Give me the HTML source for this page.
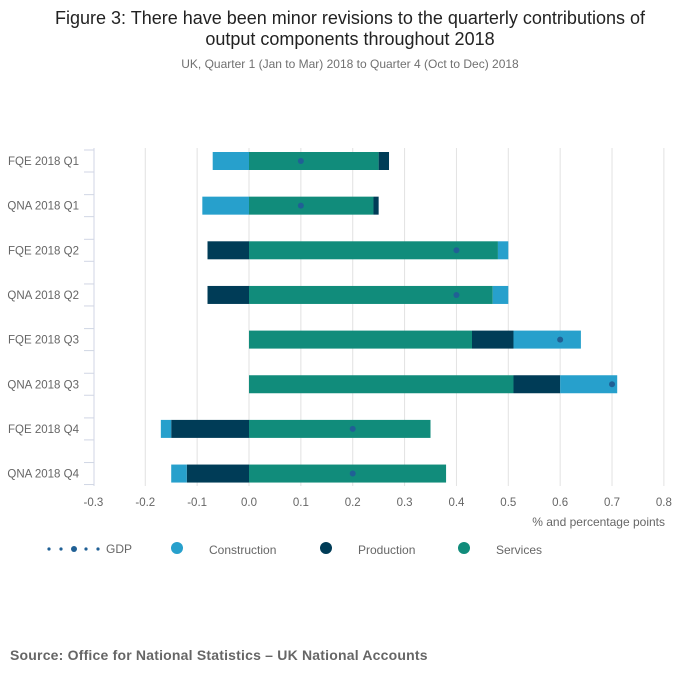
<!DOCTYPE html>
<html><head><meta charset="utf-8"><style>
body{margin:0;background:#fff;font-family:"Liberation Sans",sans-serif;}
svg text{font-family:"Liberation Sans",sans-serif;}
</style></head><body>
<svg width="700" height="682" viewBox="0 0 700 682" xmlns="http://www.w3.org/2000/svg">
<text x="350" y="24" text-anchor="middle" font-size="18" fill="#222">Figure 3: There have been minor revisions to the quarterly contributions of</text>
<text x="350" y="45" text-anchor="middle" font-size="18" fill="#222">output components throughout 2018</text>
<text x="350" y="68" text-anchor="middle" font-size="12" fill="#707070">UK, Quarter 1 (Jan to Mar) 2018 to Quarter 4 (Oct to Dec) 2018</text>
<g id="grid"></g><g id="bars"></g><g id="axes"></g>
<text x="665" y="526" text-anchor="end" font-size="12" fill="#666">% and percentage points</text>
<g>
<g>
<circle cx="49" cy="549" r="1.6" fill="#206095"/><circle cx="61" cy="549" r="1.6" fill="#206095"/><circle cx="74" cy="549" r="3" fill="#206095"/><circle cx="86" cy="549" r="1.6" fill="#206095"/><circle cx="98" cy="549" r="1.6" fill="#206095"/>
<text x="106" y="553" font-size="12" fill="#666">GDP</text></g>
<g><circle cx="177" cy="548" r="6" fill="#27a0cc"/><text x="209" y="554" font-size="12" fill="#666">Construction</text></g>
<g><circle cx="326" cy="548" r="6" fill="#003c57"/><text x="358" y="554" font-size="12" fill="#666">Production</text></g>
<g><circle cx="464" cy="548" r="6" fill="#118c7b"/><text x="496" y="554" font-size="12" fill="#666">Services</text></g>
</g>
<text x="10" y="660" font-size="14" font-weight="bold" fill="#666" letter-spacing="0.2">Source: Office for National Statistics – UK National Accounts</text>
</svg>
<script>
const categories=["FQE 2018 Q1","QNA 2018 Q1","FQE 2018 Q2","QNA 2018 Q2","FQE 2018 Q3","QNA 2018 Q3","FQE 2018 Q4","QNA 2018 Q4"];
const services=[0.25,0.24,0.48,0.47,0.43,0.51,0.35,0.38];
const production=[0.02,0.01,-0.08,-0.08,0.08,0.09,-0.15,-0.12];
const construction=[-0.07,-0.09,0.02,0.03,0.13,0.11,-0.02,-0.03];
const gdp=[0.1,0.1,0.4,0.4,0.6,0.7,0.2,0.2];
const xTicks=[-0.3,-0.2,-0.1,0.0,0.1,0.2,0.3,0.4,0.5,0.6,0.7,0.8];
const xTickLabels=["-0.3","-0.2","-0.1","0.0","0.1","0.2","0.3","0.4","0.5","0.6","0.7","0.8"];
const NS="http://www.w3.org/2000/svg";
const x=v=>249+(v*518.6);
const y=i=>161+i*44.65;
function mk(tag,attrs,parent){const e=document.createElementNS(NS,tag);for(const k in attrs)e.setAttribute(k,attrs[k]);document.getElementById(parent).appendChild(e);return e;}
xTicks.forEach((t,i)=>{
 if(i>0){const g=mk('line',{x1:x(t),x2:x(t),y1:148,y2:486,stroke:'#e2e2e2','stroke-width':1},'grid');
 
 }
 const tx=mk('text',{x:x(t),y:506,'text-anchor':'middle','font-size':11.5,fill:'#666'},'axes');tx.textContent=xTickLabels[i];
 
 
});
const ax=mk('line',{x1:94,x2:94,y1:148,y2:486,stroke:'#d0d6e4','stroke-width':1},'axes');


const colors={services:'#118c7b',production:'#003c57',construction:'#27a0cc'};
categories.forEach((c,i)=>{
 const cy=y(i);
 [-11,11].forEach(d=>{const tk=mk('line',{x1:84,x2:94,y1:cy+d,y2:cy+d,stroke:'#d0d6e4'},'axes');
  
  });
 const lb=mk('text',{x:79,y:cy+4,'text-anchor':'end','font-size':11.5,fill:'#666'},'axes');lb.textContent=c;
 
 
 let pos=0,neg=0;
 [['services',services],['production',production],['construction',construction]].forEach(([n,arr])=>{
  const v=arr[i];let a,b;
  if(v>=0){a=pos;b=pos+v;pos=b;}else{a=neg+v;b=neg;neg=a;}
  const r=mk('rect',{x:x(a),y:cy-9,width:Math.max(0,x(b)-x(a)),height:18,fill:colors[n]},'bars');
  
  
 });
 const d=mk('circle',{cx:x(gdp[i]),cy:cy,r:3,fill:'#206095'},'bars');
 
 
});
</script>
</body></html>
